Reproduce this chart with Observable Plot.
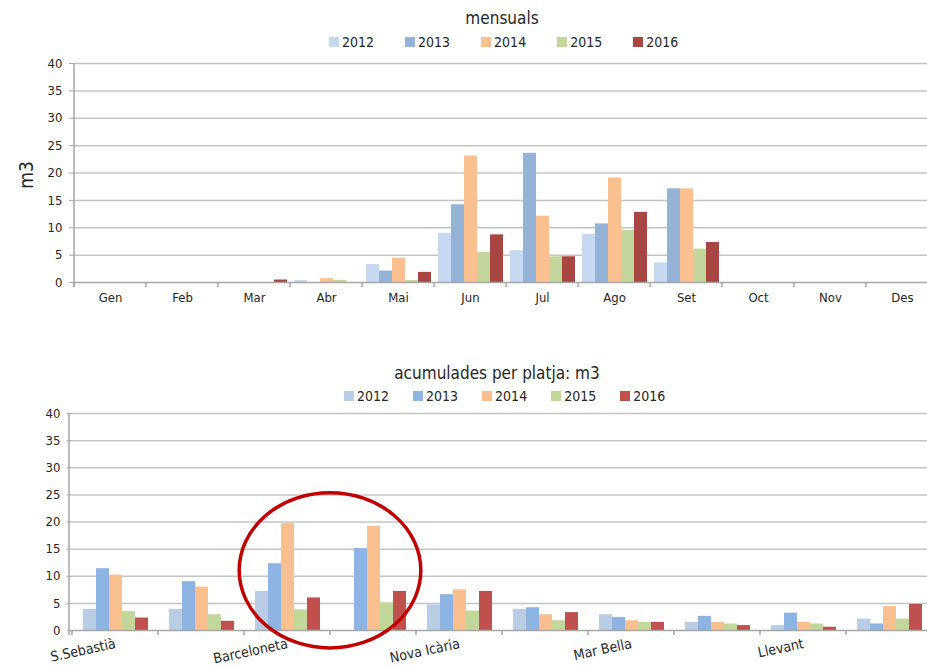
<!DOCTYPE html>
<html><head><meta charset="utf-8">
<script src="https://cdn.jsdelivr.net/npm/d3@7"></script>
<script src="https://cdn.jsdelivr.net/npm/@observablehq/plot@0.6"></script>
<style>
html,body{margin:0;padding:0;background:#fff;}
#wrap{position:relative;width:927px;height:668px;overflow:hidden;font-family:"Liberation Sans Narrow","DejaVu Sans Condensed",sans-serif;color:#262626;}
.title{position:absolute;transform:translate(-50%,-50%);white-space:nowrap;font-size:17px;}
.legend{position:absolute;display:flex;align-items:center;white-space:nowrap;font-size:14px;transform:translateY(-50%);}
.legend .item{display:flex;align-items:center;}
.legend .sw{width:10px;height:10px;margin-right:3px;}
.ylab{position:absolute;transform:translate(-50%,-50%) rotate(-90deg);font-size:19px;}
</style>
</head><body>
<div id="wrap"></div>
<script>
// ---- data ----
const years = ["2012", "2013", "2014", "2015", "2016"];
const yTicks = [0, 5, 10, 15, 20, 25, 30, 35, 40];

const months = ["Gen", "Feb", "Mar", "Abr", "Mai", "Jun", "Jul", "Ago", "Set", "Oct", "Nov", "Des"];
const m2012 = [0, 0, 0, 0.35, 3.3, 9.0, 5.8, 8.8, 3.6, 0, 0, 0];
const m2013 = [0, 0, 0, 0, 2.1, 14.2, 23.6, 10.7, 17.1, 0, 0, 0];
const m2014 = [0, 0, 0, 0.7, 4.4, 23.1, 12.1, 19.1, 17.1, 0, 0, 0];
const m2015 = [0, 0, 0, 0.4, 0.35, 5.5, 4.7, 9.5, 6.1, 0, 0, 0];
const m2016 = [0, 0, 0.45, 0, 1.85, 8.7, 4.7, 12.8, 7.3, 0, 0, 0];

const beaches = ["S.Sebastià", "Sant Miquel", "Barceloneta", "Somorrostro", "Nova Icària", "Bogatell", "Mar Bella", "Nova Mar Bella", "Llevant", "Zona de Banys"];
const beachLabels = ["S.Sebastià", "Barceloneta", "Nova Icària", "Mar Bella", "Llevant"];
const b2012 = [3.9, 3.9, 7.2, 0, 4.7, 3.9, 2.9, 1.5, 0.9, 2.1];
const b2013 = [11.4, 9.0, 12.3, 15.1, 6.6, 4.2, 2.4, 2.6, 3.2, 1.2];
const b2014 = [10.2, 8.0, 19.7, 19.2, 7.5, 2.9, 1.8, 1.5, 1.5, 4.4];
const b2015 = [3.5, 2.9, 3.8, 5.1, 3.6, 1.8, 1.5, 1.2, 1.2, 2.1];
const b2016 = [2.3, 1.7, 6.0, 7.2, 7.2, 3.3, 1.5, 0.9, 0.6, 4.8];

const titleTop = "mensuals";
const titleBottom = "acumulades per platja: m3";
const yLabel = "m3";

const colorsTop = ["#c6d9f0", "#95b3d7", "#fac08f", "#c3d69b", "#a94543"];
const colorsBottom = ["#b9cde5", "#8db4e2", "#fabf8f", "#c4d79b", "#c0504d"];

// ---- helpers ----
const FONT = '"Liberation Sans Narrow","DejaVu Sans Condensed",sans-serif';
const wrap = document.getElementById("wrap");

function table(cats, series) {
  const rows = [];
  cats.forEach((c, i) => series.forEach((s, j) => rows.push({cat: c, year: years[j], value: s[i]})));
  return rows;
}
function addDiv(cls, html, left, top) {
  const d = document.createElement("div");
  d.className = cls; d.innerHTML = html;
  d.style.left = left + "px"; d.style.top = top + "px";
  wrap.appendChild(d); return d;
}
function legend(colors, left, top, gap) {
  const d = addDiv("legend", "", left, top);
  d.style.gap = gap + "px";
  years.forEach((y, i) => {
    const it = document.createElement("div"); it.className = "item";
    it.innerHTML = `<span class="sw" style="background:${colors[i]}"></span><span>${y}</span>`;
    d.appendChild(it);
  });
}
function bandApply(s) {
  if (typeof s.apply === "function") return s.apply;
  return d3.scaleBand().domain(s.domain).range(s.range).paddingInner(s.paddingInner || 0).paddingOuter(s.paddingOuter || 0);
}
function linApply(s) {
  if (typeof s.apply === "function") return s.apply;
  return d3.scaleLinear().domain(s.domain).range(s.range);
}
function makePanel(cats, series, colors, opt) {
  const data = table(cats, series);
  const p = Plot.plot({
    width: 940, height: opt.height,
    marginTop: opt.mt, marginBottom: opt.mb, marginLeft: opt.ml, marginRight: opt.mr,
    style: {fontFamily: FONT, fontSize: opt.fs, color: "#262626", background: "transparent", overflow: "visible", maxWidth: "none"},
    fx: {domain: cats, padding: 0, label: null, axis: "bottom", tickSize: 0, tickPadding: opt.fxPad,
         tickRotate: opt.rotate || 0, tickFormat: opt.fmt || (d => d)},
    x: {domain: years, axis: null, paddingInner: 0, paddingOuter: opt.po},
    y: {domain: [0, 40], ticks: yTicks, tickSize: 5, tickPadding: opt.yPad, label: null},
    color: {domain: years, range: colors},
    marks: [
      Plot.ruleY(yTicks.filter(v => v > 0), {stroke: "#c4c4c4", strokeWidth: 1.5}),
      Plot.barY(data, {fx: "cat", x: "year", y: "value", fill: "year", inset: 0}),
      Plot.ruleY([0], {stroke: "#a6a6a6", strokeWidth: 1.5})
    ]
  });
  const svg = d3.select(p);
  svg.selectAll('[aria-label="y-axis tick"] path, [aria-label="y-axis tick"]').attr("stroke", "#a6a6a6");
  if (opt.fxFs) svg.selectAll('[aria-label="fx-axis tick label"]').attr("font-size", opt.fxFs);
  const fx = p.scale("fx"), ys = p.scale("y");
  const fxA = bandApply(fx), yA = linApply(ys);
  const y0 = yA(0), yTop = yA(40);
  const x0 = fx.range[0], x1 = fx.range[1];
  const g = svg.append("g").attr("stroke", "#a6a6a6").attr("stroke-width", 1.5);
  g.append("line").attr("x1", x0).attr("x2", x0).attr("y1", yTop).attr("y2", y0 + 5);
  cats.forEach(c => {
    const xx = fxA(c);
    g.append("line").attr("x1", xx).attr("x2", xx).attr("y1", y0).attr("y2", y0 + 5);
  });
  g.append("line").attr("x1", x1).attr("x2", x1).attr("y1", y0).attr("y2", y0 + 5);
  p.style.position = "absolute"; p.style.left = "0px"; p.style.top = opt.top + "px";
  p.style.maxWidth = "none";
  wrap.appendChild(p);
  return {p, svg, fxA, yA, step: (x1 - x0) / cats.length};
}

// ---- top panel ----
addDiv("title", titleTop, 502, 18);
legend(colorsTop, 329, 42, 31);
addDiv("ylab", yLabel, 26, 175);
makePanel(months, [m2012, m2013, m2014, m2015, m2016], colorsTop,
  {top: 50, height: 265, mt: 13, mb: 33, ml: 74, mr: 2, fs: "13px", fxPad: 10, yPad: 7, po: 0.2});

// ---- bottom panel ----
addDiv("title", titleBottom, 497, 373);
legend(colorsBottom, 344, 396, 24);
const shown = new Set(beachLabels);
const bot = makePanel(beaches, [b2012, b2013, b2014, b2015, b2016], colorsBottom,
  {top: 400, height: 268, mt: 13, mb: 38, ml: 69, mr: 6, fs: "13px", fxFs: "14px", fxPad: 13, yPad: 7, po: 0.72,
   rotate: -12, fmt: d => shown.has(d) ? d : ""});

// highlight ellipse around Barceloneta / Somorrostro
const cx = bot.fxA(beaches[3]);
bot.svg.append("ellipse")
  .attr("cx", cx).attr("cy", bot.yA(11))
  .attr("rx", bot.step * 1.05).attr("ry", bot.yA(0) - bot.yA(14.3))
  .attr("fill", "none").attr("stroke", "#c00000").attr("stroke-width", 3.5);
</script>
</body></html>
